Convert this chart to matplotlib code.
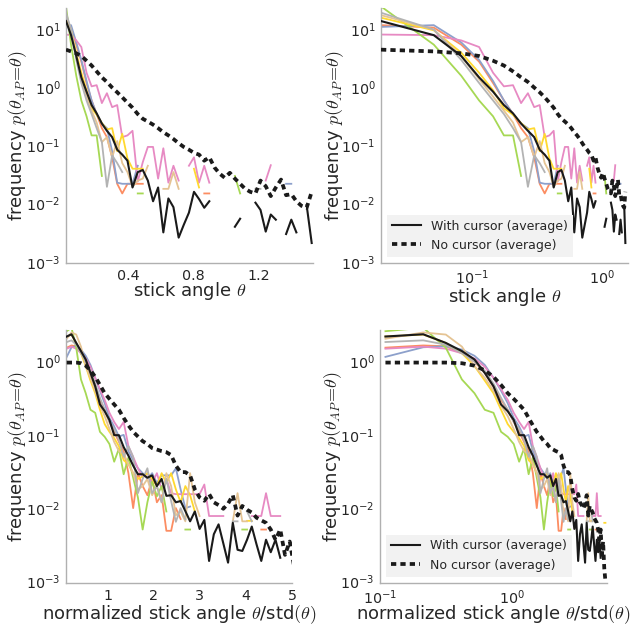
import numpy as np
import matplotlib
matplotlib.use("Agg")
import matplotlib.pyplot as plt

N = np.nan

# ---------------- data: raw stick angle (top row) ----------------
top_x = [0.020, 0.051, 0.083, 0.114, 0.146, 0.177, 0.208, 0.240, 0.271, 0.303,
         0.334, 0.365, 0.397, 0.428, 0.460, 0.491, 0.522, 0.554, 0.585, 0.617,
         0.648, 0.679, 0.711, 0.742, 0.774, 0.805, 0.836, 0.868, 0.899, 0.931,
         0.962, 0.993, 1.025, 1.056, 1.088, 1.119, 1.150, 1.182, 1.213, 1.245,
         1.276, 1.307, 1.339, 1.370, 1.402, 1.433, 1.464, 1.496, 1.527]

top_with_avg = [14, 8.0, 3.5, 1.5, 0.85, 0.5, 0.36, 0.24, 0.18, 0.14, 0.085, 0.07, 0.055,
                0.019, 0.035, 0.038, 0.025, 0.011, 0.019, 0.0032, 0.0123, 0.0087, 0.0026,
                0.0043, 0.007, 0.016, 0.012, 0.0085, 0.011, N, N, N, N, 0.004, 0.0055, N, N,
                0.0104, 0.0078, 0.0033, 0.0065, 0.0053, N, 0.003, 0.0053, 0.0032, N, 0.0094, 0.0021]

top_no_avg = [4.5, 4.2, 3.9, 3.5, 2.9, 2.4, 1.9, 1.5, 1.25, 1.0, 0.83, 0.68, 0.55, 0.45, 0.35,
              0.29, 0.26, 0.23, 0.20, 0.17, 0.15, 0.13, 0.11, 0.095, 0.085, 0.075, 0.07, 0.055,
              0.063, 0.042, 0.033, 0.028, 0.034, 0.027, 0.022, 0.018, 0.016, 0.015, 0.025, 0.02,
              0.0135, 0.019, 0.026, 0.014, 0.0146, 0.011, 0.0092, 0.0085, 0.016]

top_orange = [11.9, 10.8, 5.5, 2.8, 1.2, 0.6, 0.35, 0.2, 0.14, 0.063, 0.022, 0.015, 0.022, 0.022,
              0.022, 0.022, N, N, N, N, N, N, N, N, N, N, N, 0.015, 0.015]
top_blue = [11.1, 11.9, 6.0, 3.0, 1.3, 0.6, 0.35, 0.24, 0.2, 0.08, 0.023, 0.022, 0.022, 0.022,
            0.045, N, N, N, N, N, N, N, N, N, N, N, N, N, N, N, N, N, N, N, N, N, N, N, N, N,
            N, N, N, 0.022, 0.022]
top_pink = [8.2, 8.0, 6.5, 5.0, 1.8, 1.05, 1.1, 0.54, 0.8, 0.46, 0.5, 0.14, 0.15, 0.18, 0.024,
            0.052, 0.095, 0.095, 0.027, 0.09, 0.023, 0.045, 0.025, N, 0.045, 0.063, 0.023, 0.045,
            0.023, N, N, N, N, N, N, N, N, N, N, 0.025, 0.046]
top_green = [25, 5.5, 1.6, 0.6, 0.32, 0.15, 0.15, 0.03, N, N, N, N, N, N, 0.015, 0.015,
             N, N, N, N, N, N, N, N, N, N, N, N, N, N, N, N, N, 0.03, 0.015]
top_yellow = [16, 9.7, 4.0, 1.8, 0.9, 0.44, 0.34, 0.245, 0.19, 0.2, 0.08, 0.16, 0.06, 0.04,
              0.04, 0.04, N, N, N, N, N, N, N, N, N, 0.04, 0.019]
top_tan = [17.7, 10, 3.5, 1.4, 0.7, 0.4, 0.25, 0.115, 0.14, 0.063, 0.12, 0.05, 0.035, 0.0195,
           0.025, 0.027, 0.045, N, N, 0.018, 0.018, 0.035, 0.018]
top_gray = [19.5, 10, 3.0, 1.2, 0.6, 0.35, 0.2, 0.115, 0.0195, 0.068, 0.05, 0.035,
            N, N, N, N, N, N, N, N, N, N, N, N, N, N, N, N, N, N, N, N, N, N, N, N, N,
            0.018, 0.018]

# ---------------- data: normalized stick angle (bottom row) ----------------
bot_x = [0.110, 0.213, 0.316, 0.419, 0.522, 0.625, 0.728, 0.831, 0.934, 1.037,
         1.140, 1.243, 1.346, 1.449, 1.552, 1.655, 1.758, 1.861, 1.964, 2.067,
         2.170, 2.273, 2.376, 2.479, 2.582, 2.685, 2.788, 2.891, 2.994, 3.097,
         3.200, 3.303, 3.406, 3.509, 3.612, 3.715, 3.818, 3.921, 4.024, 4.127,
         4.230, 4.333, 4.436, 4.539, 4.642, 4.745, 4.848, 4.951, 5.054, 5.157]

bot_with_avg = [2.2, 2.36, 1.8, 1.39, 1.07, 0.70, 0.46, 0.26, 0.21, 0.16, 0.099, 0.099, 0.068,
                0.052, 0.038, 0.029, 0.029, 0.026, 0.028, 0.02, 0.025, 0.0147, 0.015, 0.012,
                0.0125, 0.0091, 0.0066, 0.009, 0.0052, 0.0069, 0.0019, 0.0044, 0.006, 0.0033,
                0.0018, 0.0063, 0.0027, 0.0026, 0.0037, 0.0056, 0.0032, 0.0019, 0.0037, 0.0025,
                0.0037, 0.0021]

bot_no_avg = [0.97, 0.97, 0.97, 0.95, 0.88, 0.76, 0.62, 0.48, 0.37, 0.31, 0.26, 0.22, 0.17,
              0.135, 0.11, 0.095, 0.082, 0.075, 0.066, 0.063, 0.06, 0.058, 0.053, 0.038, 0.031,
              0.031, 0.028, 0.018, 0.014, 0.0126, 0.0156, 0.012, 0.011, 0.0098, 0.0115, 0.015,
              0.0079, 0.0107, 0.0095, 0.0087, 0.0074, 0.0068, 0.0063, 0.0051, 0.0037, 0.0051,
              0.0023, 0.0035, 0.0015, 0.001]

bot_orange = [1.55, 1.66, 1.62, 1.3, 1.0, 0.7, 0.45, 0.3, 0.22, 0.15, 0.11, 0.08, 0.06, 0.03,
              0.01, 0.03, 0.02, 0.015, 0.025, 0.012, 0.015, 0.0049, 0.0049, 0.01, 0.0071,
              N, N, N, N, N, N, N, N, N, N, N, N, N, N, N, N, 0.0051, 0.0051]
bot_blue = [1.16, 1.57, 1.62, 1.46, 1.2, 0.9, 0.6, 0.4, 0.27, 0.17, 0.13, 0.095, 0.1, 0.06,
            0.045, 0.035, 0.03, 0.025, 0.03, 0.022, 0.028, 0.028, 0.028, 0.035, 0.018, 0.01, 0.0105]
bot_pink = [1.5, 1.6, 1.5, 1.3, 1.1, 0.85, 0.6, 0.42, 0.3, 0.2, 0.15, 0.12, 0.15, 0.07, 0.05,
            0.035, 0.026, 0.03, 0.022, 0.03, 0.018, 0.025, 0.016, 0.0155, 0.0155, 0.0155, 0.0155,
            0.0155, 0.0155, 0.021, 0.0078, 0.0078, 0.0078, 0.0078, N, N, N, N, N, 0.0078, 0.0078,
            0.0078, 0.016, 0.0078, 0.0078, 0.0078]
bot_green = [2.6, 2.9, 1.55, 0.57, 0.37, 0.22, 0.2, 0.11, 0.094, 0.075, 0.043, 0.065, 0.029,
             0.049, 0.026, 0.014, 0.0051, 0.012, 0.023, 0.0145, 0.02, 0.009, N, N, N, 0.0051,
             0.0051, N, N, N, N, N, N, N, N, N, N, 0.0051, 0.0051]
bot_yellow = [2.2, 2.34, 1.8, 1.3, 0.87, 0.55, 0.37, 0.22, 0.14, 0.11, 0.09, 0.07, 0.045, 0.04,
              0.03, 0.025, 0.027, 0.03, 0.025, 0.02, 0.03, 0.022, 0.03, 0.018, 0.012, 0.02, 0.015,
              0.009, N, N, N, N, N, N, N, N, N, N, 0.0067, 0.0067, N, N, N, N, N, N, N, N,
              0.0063, 0.0063]
bot_tan = [2.05, 2.5, 2.34, 1.6, 0.87, 0.6, 0.4, 0.25, 0.18, 0.12, 0.08, 0.06, 0.055, 0.04, 0.03,
           0.018, 0.02, 0.025, 0.015, 0.02, 0.012, 0.03, 0.02, 0.008, 0.009, 0.0066, 0.03, 0.012,
           0.0078, N, N, N, N, N, N, 0.0066, 0.016, 0.0066, 0.0066]
bot_gray = [1.85, 1.95, 1.7, 1.3, 1.0, 0.75, 0.5, 0.32, 0.22, 0.15, 0.12, 0.085, 0.05, 0.07, 0.05,
            0.016, 0.025, 0.035, 0.016, 0.02, 0.012, 0.025, 0.0125, 0.0065, 0.01, 0.007,
            N, N, N, N, N, N, N, N, N, 0.0066, 0.0066, N, 0.009, 0.0066]

colors = {"orange": "#fc8d62", "blue": "#8da0cb", "pink": "#e78ac3", "green": "#a6d854",
          "yellow": "#ffd92f", "tan": "#e5c494", "gray": "#b3b3b3"}

top_subjects = [("orange", top_orange), ("blue", top_blue), ("pink", top_pink),
                ("green", top_green), ("yellow", top_yellow), ("tan", top_tan), ("gray", top_gray)]
bot_subjects = [("orange", bot_orange), ("blue", bot_blue), ("pink", bot_pink),
                ("green", bot_green), ("yellow", bot_yellow), ("tan", bot_tan), ("gray", bot_gray)]

# ---------------- style ----------------
plt.rcParams.update({
    "font.family": ["DejaVu Sans"],
    "mathtext.fontset": "cm",
    "axes.edgecolor": "#b0b0b0",
    "axes.linewidth": 1.0,
    "xtick.color": "#262626",
    "ytick.color": "#262626",
    "axes.labelcolor": "#262626",
    "text.color": "#262626",
})

W, H = 630, 625
fig = plt.figure(figsize=(W / 100, H / 100), dpi=100)


def rect(l, r, t, b):
    return [l / W, 1 - b / H, (r - l) / W, (b - t) / H]


def pad(vals, n):
    v = list(vals) + [N] * (n - len(vals))
    return np.array(v, dtype=float)


def panel(ax, x, subjects, avg, noc, xlog, xlim, ylim, xlabel, legend, px):
    l, r, t, b, ylab_right, xlab_base = px
    n = len(x)
    x = np.array(x)
    for name, vals in subjects:
        ax.plot(x, pad(vals, n), color=colors[name], lw=1.3, zorder=2)
    ax.plot(x, pad(avg, n), color="#1a1a1a", lw=1.5, zorder=3,
            label="With cursor (average)")
    ax.plot(x, pad(noc, n), color="#1a1a1a", lw=2.7, ls=(0, (1.4, 1.1)), zorder=4,
            label="No cursor (average)")
    ax.set_yscale("log")
    if xlog:
        ax.set_xscale("log")
    ax.set_xlim(*xlim)
    ax.set_ylim(*ylim)
    ax.minorticks_off()
    for s in ("top", "right"):
        ax.spines[s].set_visible(False)
    ax.tick_params(length=0, labelsize=10.3, pad=4)
    ax.set_xlabel(xlabel, fontsize=13)
    ax.xaxis.label.set_verticalalignment("baseline")
    ax.set_ylabel(r"frequency $p(\theta_{AP}\!=\!\theta)$", fontsize=13)
    ax.yaxis.set_label_coords((ylab_right - l) / (r - l), 0.5)
    ax.xaxis.set_label_coords(0.5, -(xlab_base - b) / (b - t))
    if legend:
        leg = ax.legend(loc="lower left", fontsize=9, frameon=True, fancybox=False,
                        borderaxespad=0.5, handlelength=2.3)
        leg.get_frame().set_facecolor("#f2f2f2")
        leg.get_frame().set_edgecolor("none")
        leg.get_frame().set_alpha(1)


p1 = (66, 313, 8, 263, 29, 296)
ax1 = fig.add_axes(rect(*p1[:4]))
panel(ax1, top_x, top_subjects, top_with_avg, top_no_avg, False, (0.02, 1.535),
      (9.5e-4, 23.5), r"stick angle $\theta$", False, p1)
ax1.set_xticks([0.4, 0.8, 1.2])

p2 = (381, 628, 8, 263, 346, 302)
ax2 = fig.add_axes(rect(*p2[:4]))
panel(ax2, top_x, top_subjects, top_with_avg, top_no_avg, True, (0.02, 1.6),
      (9.5e-4, 23.5), r"stick angle $\theta$", True, p2)

p3 = (66, 292, 330, 583, 29, 619)
ax3 = fig.add_axes(rect(*p3[:4]))
panel(ax3, bot_x, bot_subjects, bot_with_avg, bot_no_avg, False, (0.094, 5.0),
      (9.5e-4, 2.7), r"normalized stick angle $\theta$/std$(\theta)$", False, p3)
ax3.set_xticks([1, 2, 3, 4, 5])

p4 = (380, 607, 330, 583, 344, 619)
ax4 = fig.add_axes(rect(*p4[:4]))
panel(ax4, bot_x, bot_subjects, bot_with_avg, bot_no_avg, True, (0.1, 5.3),
      (9.5e-4, 2.7), r"normalized stick angle $\theta$/std$(\theta)$", True, p4)

fig.savefig("out.png", dpi=100)
